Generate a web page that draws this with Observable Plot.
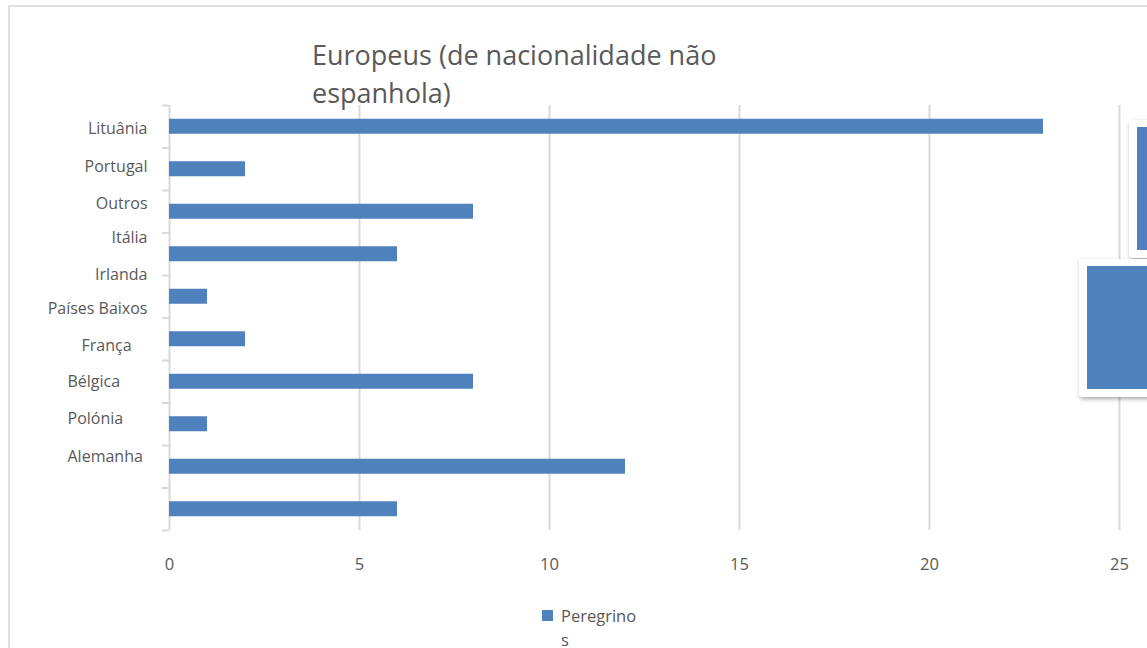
<!DOCTYPE html>
<html>
<head>
<meta charset="utf-8">
<script src="https://cdn.jsdelivr.net/npm/d3@7"></script>
<script src="https://cdn.jsdelivr.net/npm/@observablehq/plot@0.6"></script>
<style>
  html, body { margin: 0; padding: 0; background: #fff; }
  #wrap { position: relative; width: 1147px; height: 648px; overflow: hidden; font-family: "Open Sans", sans-serif; color: #595959; }
  #frame { position: absolute; left: 8px; top: 5px; width: 1160px; height: 660px; border: 2px solid #e0e0e0; box-sizing: border-box; }
  #title { position: absolute; left: 312px; top: 36px; font-size: 27px; line-height: 38px; color: #595959; width: 470px; }
  #legend { position: absolute; left: 542px; top: 604px; font-size: 16.5px; line-height: 24px; color: #595959; width: 110px; }
  #legend .sw { display: inline-block; width: 11px; height: 11px; background: #4f81bd; margin-right: 8px; vertical-align: 1px; }
  #legend .rest { padding-left: 19px; }
  .blk { position: absolute; background: #fff; border-radius: 3px; box-shadow: 1px 2px 4px rgba(0,0,0,0.35); }
  .blk div { position: absolute; background: #4f81bd; }
  #chart svg { position: absolute; left: 0; top: 0; }
</style>
</head>
<body>
<div id="wrap">
  <div id="frame"></div>
  <div id="chart"></div>
  <div id="title">Europeus (de nacionalidade não espanhola)</div>
  <div id="legend"><span class="sw"></span>Peregrino<br><span class="rest">s</span></div>
  <div class="blk" style="left:1129px; top:120px; width:40px; height:138px;"><div style="left:8px; top:7px; width:40px; height:123px;"></div></div>
  <div class="blk" style="left:1079px; top:259px; width:90px; height:138px;"><div style="left:8px; top:7px; width:90px; height:123px;"></div></div>
</div>
<script>
const countries = ["Lituânia", "Portugal", "Outros", "Itália", "Irlanda", "Países Baixos", "França", "Bélgica", "Polónia", "Alemanha"];
const peregrinos = [23, 2, 8, 6, 1, 2, 8, 1, 12, 6];
const xTicks = [0, 5, 10, 15, 20, 25];

const data = countries.map((c, i) => ({country: c, value: peregrinos[i]}));

const W = 1147, H = 648;
const mL = 169, mR = 28, mT = 105, mB = 118;
const step = (H - mT - mB) / countries.length;
const barH = 15;
const grey = "#595959";
const lineCol = "#d9d9d9";

// Label placement mimicking the reference's compressed category labels
const labelMarks = countries.map((c, i) => {
  const lower = i >= 6;
  const startX = [81, 67, 67, 67][i - 6];
  return Plot.text([c], {
    y: d => d,
    frameAnchor: "left",
    textAnchor: lower ? "start" : "end",
    dx: lower ? startX - mL : -22,
    dy: 2 - 6 * i + (i >= 1 && i <= 2 ? 2 : 0) - (i >= 5 && i <= 8 ? 2 : 0),
    fill: grey,
    fontSize: 16
  });
});

const chart = Plot.plot({
  width: W,
  height: H,
  marginLeft: mL,
  marginRight: mR,
  marginTop: mT,
  marginBottom: mB,
  style: {fontFamily: "Open Sans, sans-serif", color: grey, background: "transparent", overflow: "visible"},
  x: {domain: [0, 25], axis: null},
  y: {domain: countries, padding: 0, round: false, axis: null},
  marks: [
    Plot.ruleX(xTicks, {stroke: lineCol, strokeWidth: 2}),
    Plot.barX(data, {y: "country", x: "value", fill: "#4f81bd", insetTop: (step - barH) / 2, insetBottom: (step - barH) / 2}),
    Plot.ruleY(countries, {y: d => d, x2: 0, insetLeft: -7, dy: -step / 2, stroke: lineCol, strokeWidth: 2}),
    Plot.ruleY([countries[countries.length - 1]], {y: d => d, x2: 0, insetLeft: -7, dy: step / 2, stroke: lineCol, strokeWidth: 2}),
    Plot.text(xTicks, {x: d => d, frameAnchor: "bottom", dy: 39, fill: grey, fontSize: 16.5, text: d => String(d)}),
    ...labelMarks
  ]
});
document.getElementById("chart").appendChild(chart);
</script>
</body>
</html>
